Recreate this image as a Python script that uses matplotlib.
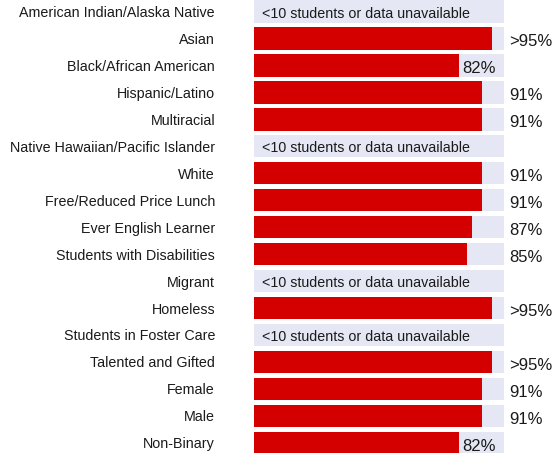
import matplotlib
matplotlib.use("Agg")
import matplotlib.pyplot as plt
import numpy as np

# student groups, top to bottom
groups = ["American Indian/Alaska Native", "Asian", "Black/African American",
          "Hispanic/Latino", "Multiracial", "Native Hawaiian/Pacific Islander",
          "White", "Free/Reduced Price Lunch", "Ever English Learner",
          "Students with Disabilities", "Migrant", "Homeless",
          "Students in Foster Care", "Talented and Gifted", "Female", "Male",
          "Non-Binary"]

# rate in percent (None = fewer than 10 students)
rates = [None, 95, 82, 91, 91, None, 91, 91, 87, 85, None, 95, None, 95, 91, 91, 82]
rate_labels = [None, ">95%", "82%", "91%", "91%", None, "91%", "91%", "87%", "85%",
               None, ">95%", None, ">95%", "91%", "91%", "82%"]
missing_text = "<10 students or data unavailable"

RED = "#d40000"
BG = "#e5e8f4"
TXT = "#1a1a1a"

plt.rcParams["font.family"] = ["Liberation Sans", "DejaVu Sans"]

fig = plt.figure(figsize=(5.56, 4.53), dpi=100)
ax = fig.add_axes([254 / 556, -1 / 453, 250 / 556, 453.7 / 453])

y = np.arange(len(groups))
bar_h = 0.83
ax.barh(y, [100] * len(groups), height=bar_h, color=BG)
vals = [np.nan if r is None else r for r in rates]
ax.barh(y, vals, height=bar_h, color=RED)

ax.set_xlim(0, 100)
ax.set_ylim(len(groups) - 1 + bar_h / 2, -bar_h / 2)

# group labels on the left
ax.set_yticks(y)
ax.set_yticklabels(groups, fontsize=10.3, color=TXT)
ax.tick_params(axis="y", length=0, pad=28)
ax.set_xticks([])
for s in ax.spines.values():
    s.set_visible(False)

# value labels / missing note
for i in range(len(groups)):
    if rates[i] is None:
        ax.text(3.2, i + 0.08, missing_text, fontsize=10.3, color=TXT,
                va="center", ha="left")
    else:
        if rates[i] <= 82:
            x = rates[i] + 1.2
        else:
            x = 102
        ax.text(x, i + 0.12, rate_labels[i], fontsize=12, color=TXT,
                va="center", ha="left", clip_on=False)

fig.savefig("out.png", dpi=100)
